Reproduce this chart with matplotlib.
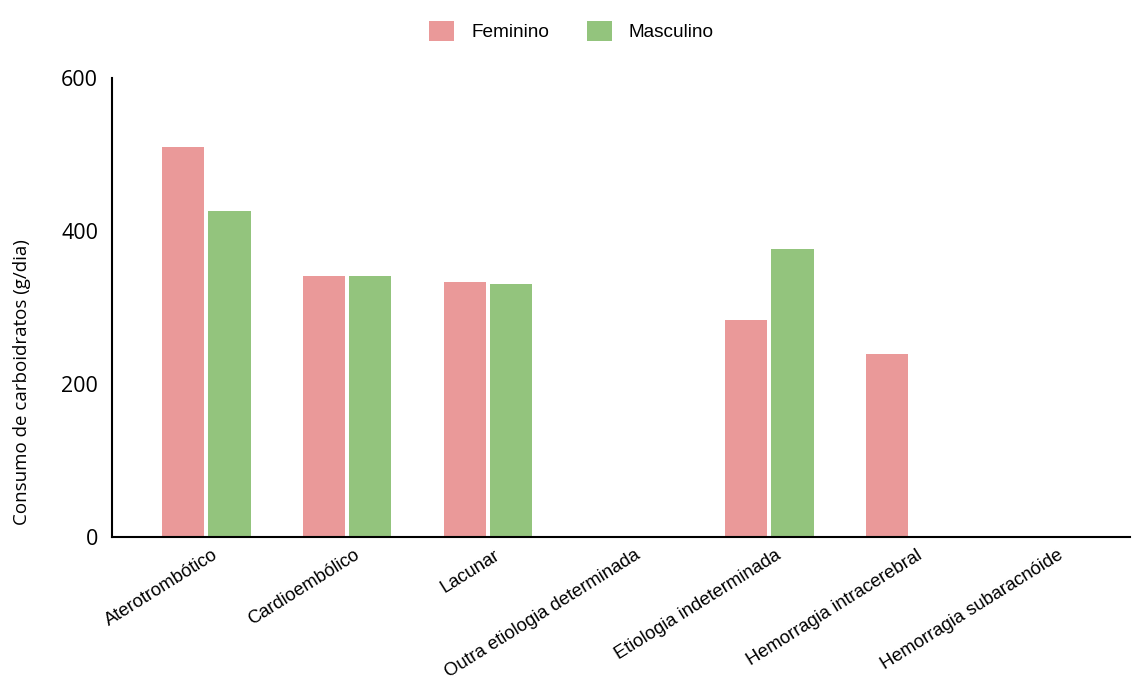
import numpy as np
import matplotlib
matplotlib.use("Agg")
import matplotlib.pyplot as plt
from matplotlib.transforms import ScaledTranslation

categorias = ["Aterotrombótico", "Cardioembólico", "Lacunar",
              "Outra etiologia determinada", "Etiologia indeterminada",
              "Hemorragia intracerebral", "Hemorragia subaracnóide"]
feminino = [510, 341, 333, 0, 284, 239, 0]
masculino = [426, 341, 331, 0, 376, 0, 0]

cor_fem = "#ea9999"
cor_masc = "#93c47d"

fig = plt.figure(figsize=(11.32, 6.84), dpi=100)
ax = fig.add_axes([0.099, 0.215, 0.899, 0.671])

x = np.arange(len(categorias))
w = 0.30
gap = 0.014
ax.bar(x - w / 2 - gap, feminino, w, color=cor_fem, label="Feminino")
ax.bar(x + w / 2 + gap, masculino, w, color=cor_masc, label="Masculino")

ax.set_xlim(-0.67, 6.56)
ax.set_ylim(0, 600)
ax.set_yticks([0, 200, 400, 600])
ax.tick_params(axis="y", length=0, labelsize=15.5, pad=10)
for t in ax.get_yticklabels():
    t.set_family("Open Sans")
ax.set_xticks(x)
ax.set_xticklabels(categorias, rotation=32, ha="right", rotation_mode="anchor",
                   family="Liberation Sans", fontsize=13.2)
ax.tick_params(axis="x", length=0, pad=7)
# nudge the rotated labels a little to the right
off = ScaledTranslation(6 / 100, 0, fig.dpi_scale_trans)
for t in ax.get_xticklabels():
    t.set_transform(t.get_transform() + off)
for s in ["top", "right"]:
    ax.spines[s].set_visible(False)
ax.spines["left"].set_linewidth(1.5)
ax.spines["bottom"].set_linewidth(1.5)

fig.text(0.019, 1 - 382 / 684, "Consumo de carboidratos (g/dia)", rotation=90,
         va="center", ha="center", fontsize=13.5, family="Open Sans")

fig.legend(loc="upper center", bbox_to_anchor=(0.505, 0.995), ncol=2, frameon=False,
           prop={"family": "Liberation Sans", "size": 13.7}, handlelength=1.3,
           handleheight=1.3, columnspacing=2.0, handletextpad=0.9)

fig.savefig("out.png", dpi=100)
